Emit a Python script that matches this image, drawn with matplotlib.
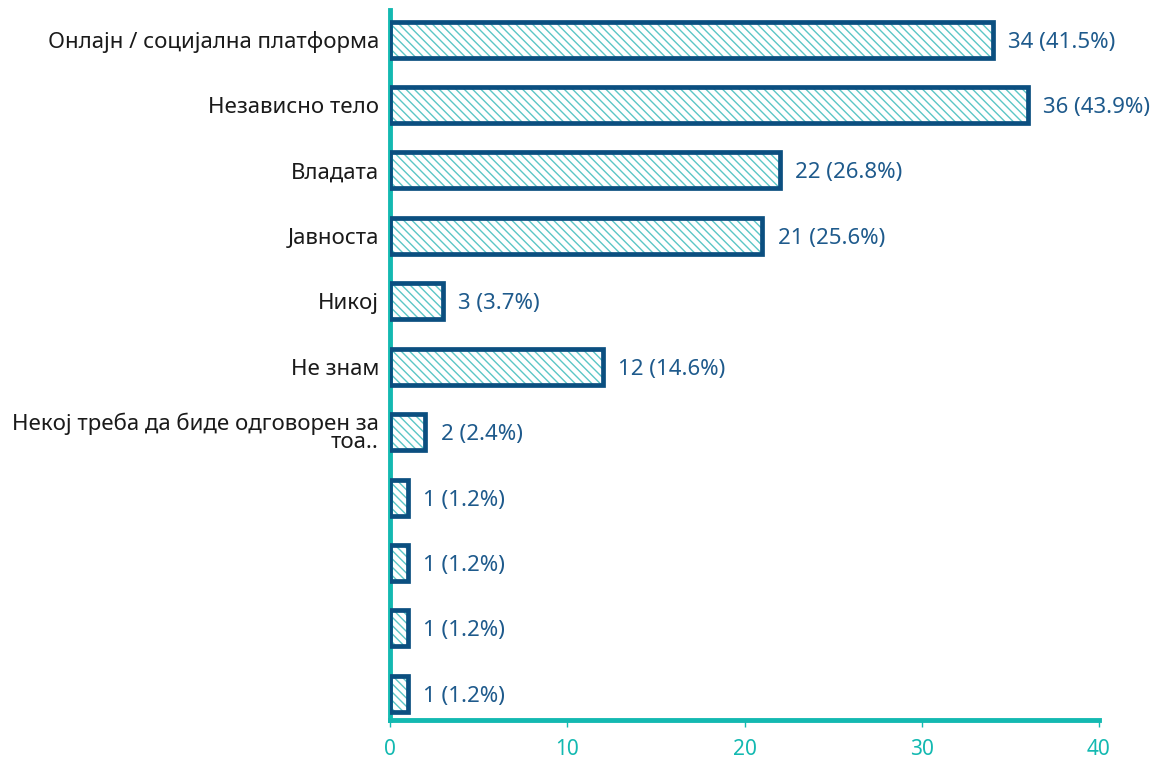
import matplotlib.pyplot as plt

plt.rcParams['font.family'] = ['Noto Sans', 'DejaVu Sans']
plt.rcParams['hatch.linewidth'] = 1.0

categories = [
    "Онлајн / социјална платформа",
    "Независно тело",
    "Владата",
    "Јавноста",
    "Никој",
    "Не знам",
    "Некој треба да биде одговорен за\nтоа..",
    "",
    "",
    "",
    "",
]
counts = [34, 36, 22, 21, 3, 12, 2, 1, 1, 1, 1]
percents = [41.5, 43.9, 26.8, 25.6, 3.7, 14.6, 2.4, 1.2, 1.2, 1.2, 1.2]

teal = "#13b9b1"
hatch_teal = "#5cc6c6"
navy = "#0b4f80"
label_blue = "#1e5a8c"

fig = plt.figure(figsize=(11.55, 7.59), dpi=100)
ax = fig.add_axes([0.3377, 0.0514, 0.6138, 0.936])

pos = list(range(len(categories)))

# hatched fill first, then the outline on top
ax.barh(pos, counts, height=0.55, color="white", edgecolor=hatch_teal,
        hatch="\\\\\\\\", linewidth=0, zorder=2)
ax.barh(pos, counts, height=0.55, fill=False, edgecolor=navy,
        linewidth=3.4, zorder=3)

for p, c, pc in zip(pos, counts, percents):
    ax.annotate(f"{c} ({pc}%)", xy=(c, p), xytext=(11, 0),
                textcoords="offset points", va="center_baseline", ha="left",
                fontsize=16, color=label_blue)

ax.set_yticks(pos)
ax.set_yticklabels(categories, fontsize=16, color="#1a1a1a")
for lbl in ax.get_yticklabels():
    lbl.set_linespacing(0.8)
ax.tick_params(axis="y", length=0, pad=8)
ax.set_ylim(10.4, -0.46)

ax.set_xlim(0, 40)
ax.set_xticks([0, 10, 20, 30, 40])
ax.tick_params(axis="x", colors=teal, labelsize=15, length=5, width=1, pad=9)

for side in ["top", "right"]:
    ax.spines[side].set_visible(False)
for side in ["left", "bottom"]:
    ax.spines[side].set_color(teal)
    ax.spines[side].set_linewidth(3.5)

fig.savefig("out.png", dpi=100)
